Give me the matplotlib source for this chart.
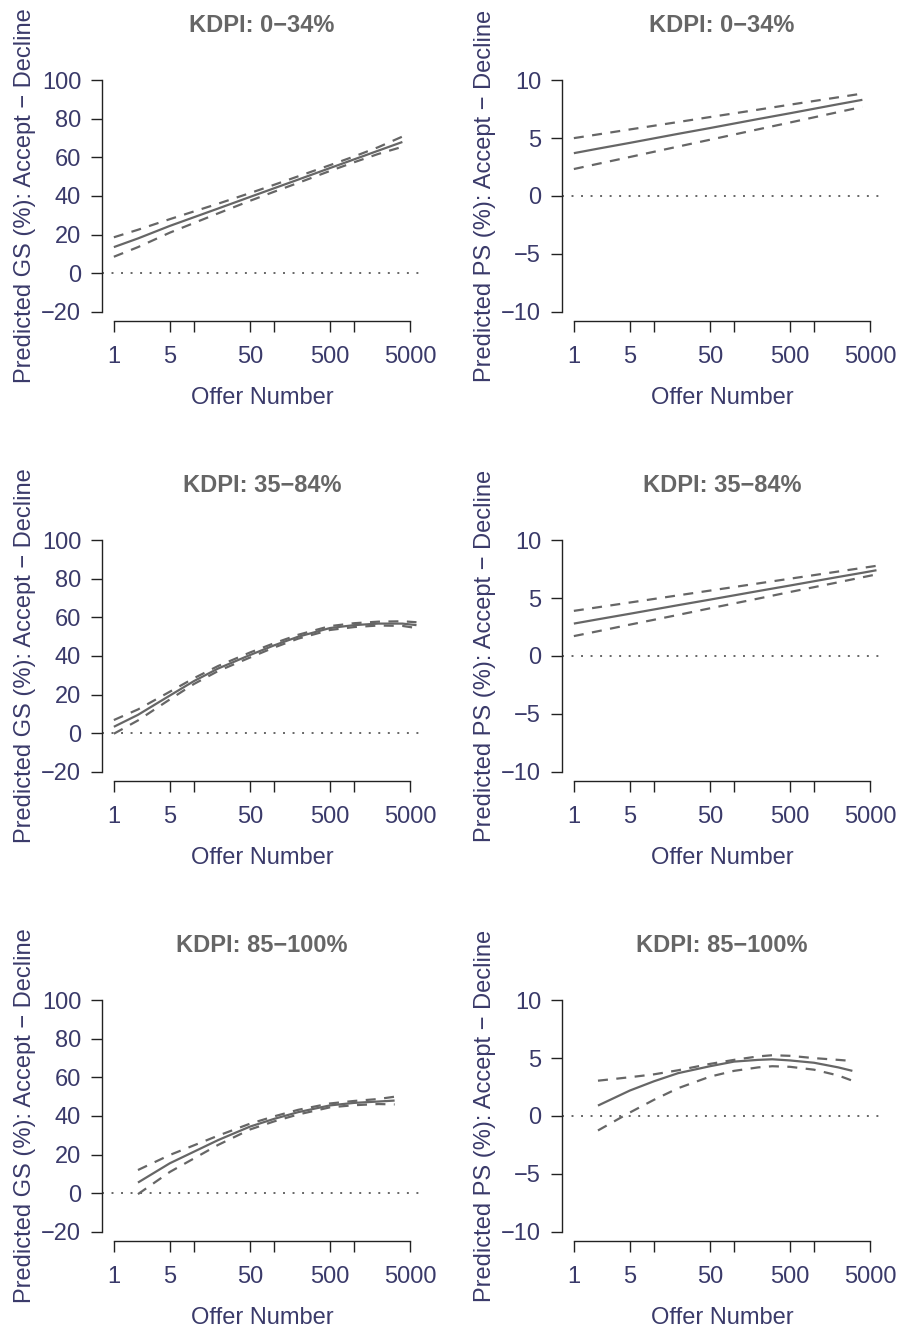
#!/usr/bin/env python3
"""
Predicted GS / PS difference (Accept - Decline) by offer number, per KDPI group
"""

import numpy as np
import matplotlib.pyplot as plt
from matplotlib.ticker import FixedLocator, FixedFormatter, NullLocator

# ---- data (offer number, estimate, upper / lower CI) ----
kdpi_groups = ['KDPI: 0\u221234%', 'KDPI: 35\u221284%', 'KDPI: 85\u2212100%']

# KDPI 0-34
offers_low = [1, 2, 5, 10, 20, 50, 100, 200, 500, 1000, 2000, 4000]
gs_low_fit = [13.5, 18.0, 24.5, 29.0, 33.5, 39.5, 44.0, 48.5, 54.5, 59.0, 63.5, 68.0]
gs_low_upper = [18.6, 22.5, 28.0, 32.0, 36.0, 41.5, 45.8, 50.2, 56.0, 60.5, 65.3, 70.8]
gs_low_lower = [8.5, 13.5, 21.0, 26.0, 31.0, 37.5, 42.2, 46.8, 53.0, 57.5, 61.8, 65.5]
ps_low_fit = [3.70, 4.09, 4.59, 4.98, 5.37, 5.87, 6.26, 6.65, 7.15, 7.54, 7.93, 8.31]
ps_low_upper = [5.00, 5.32, 5.75, 6.07, 6.39, 6.82, 7.14, 7.46, 7.89, 8.21, 8.53, 8.85]
ps_low_lower = [2.33, 2.78, 3.37, 3.82, 4.27, 4.86, 5.31, 5.76, 6.35, 6.80, 7.25, 7.70]

# KDPI 35-84
offers_mid = [1, 2, 5, 10, 20, 50, 100, 200, 500, 1000, 2000, 4000, 6000]
gs_mid_fit = [3.3, 9.5, 19.5, 27.0, 33.5, 40.5, 45.5, 50.0, 54.5, 56.0, 56.8, 56.8, 56.0]
gs_mid_upper = [6.8, 12.3, 21.5, 28.5, 34.8, 41.8, 46.6, 51.0, 55.5, 57.0, 57.8, 58.0, 57.5]
gs_mid_lower = [-0.3, 6.6, 17.5, 25.5, 32.2, 39.2, 44.4, 49.0, 53.5, 55.0, 55.8, 55.6, 54.5]
ps_mid_fit = [2.80, 3.17, 3.65, 4.02, 4.39, 4.87, 5.24, 5.61, 6.09, 6.46, 6.83, 7.19, 7.41]
ps_mid_upper = [3.90, 4.21, 4.62, 4.93, 5.24, 5.65, 5.96, 6.27, 6.68, 6.99, 7.30, 7.61, 7.79]
ps_mid_lower = [1.72, 2.14, 2.71, 3.13, 3.55, 4.12, 4.54, 4.96, 5.53, 5.95, 6.37, 6.80, 7.05]

# KDPI 85-100
offers_gs_high = [2, 5, 10, 20, 50, 100, 200, 500, 1000, 2000, 3200]
gs_high_fit = [5.5, 15.5, 21.5, 27.5, 34.5, 38.5, 42.0, 45.5, 46.8, 47.5, 48.0]
gs_high_upper = [12.0, 19.8, 24.8, 29.8, 36.0, 39.8, 43.2, 46.5, 47.8, 48.8, 50.0]
gs_high_lower = [-0.5, 11.0, 18.0, 25.0, 33.0, 37.2, 40.8, 44.5, 45.6, 46.2, 46.0]
offers_ps_high = [2, 5, 10, 20, 50, 100, 200, 300, 500, 1000, 2000, 3000]
ps_high_fit = [0.9, 2.2, 3.0, 3.7, 4.3, 4.7, 4.85, 4.9, 4.8, 4.6, 4.2, 3.9]
ps_high_upper = [3.05, 3.35, 3.6, 3.95, 4.5, 4.85, 5.15, 5.25, 5.2, 5.0, 4.85, 4.75]
ps_high_lower = [-1.25, 0.3, 1.4, 2.4, 3.4, 3.9, 4.2, 4.3, 4.25, 4.0, 3.5, 3.05]

x_ticks = [1, 5, 10, 50, 100, 500, 1000, 5000]
x_tick_labels = ['1', '5', '', '50', '', '500', '', '5000']
gs_ticks = [-20, 0, 20, 40, 60, 80, 100]
ps_ticks = [-10, -5, 0, 5, 10]

LABEL_COL = '#3a3a6a'
LINE_COL = '#666666'
FS = 17

plt.rcParams['font.family'] = ['Liberation Sans', 'DejaVu Sans']


def pad_range(lo, hi, frac=0.04):
    """R-style 4% axis extension"""
    d = (hi - lo) * frac
    return lo - d, hi + d


def draw_panel(ax, title, ylabel, offers, fit, upper, lower, yticks):
    ax.plot(offers, fit, color=LINE_COL, lw=1.6, solid_capstyle='butt')
    ax.plot(offers, upper, color=LINE_COL, lw=1.6, linestyle=(0, (4.5, 3.8)))
    ax.plot(offers, lower, color=LINE_COL, lw=1.6, linestyle=(0, (4.5, 3.8)))
    ax.axhline(0, color=LINE_COL, lw=1.4, linestyle=(0, (1, 3.9)))

    ax.set_xscale('log')
    lx0, lx1 = pad_range(np.log10(x_ticks[0]), np.log10(x_ticks[-1]))
    ax.set_xlim(10 ** lx0, 10 ** lx1)
    ax.set_ylim(*pad_range(yticks[0], yticks[-1]))

    ax.xaxis.set_major_locator(FixedLocator(x_ticks))
    ax.xaxis.set_major_formatter(FixedFormatter(x_tick_labels))
    ax.xaxis.set_minor_locator(NullLocator())
    ax.set_yticks(yticks)

    for side in ['top', 'right']:
        ax.spines[side].set_visible(False)
    ax.spines['left'].set_bounds(yticks[0], yticks[-1])
    ax.spines['bottom'].set_bounds(x_ticks[0], x_ticks[-1])
    for side in ['left', 'bottom']:
        ax.spines[side].set_linewidth(1.0)
        ax.spines[side].set_color('#222222')

    ax.tick_params(axis='both', length=8, width=1.0, color='#222222',
                   labelsize=FS, labelcolor=LABEL_COL, pad=7)
    ax.tick_params(axis='x', pad=10)

    ax.set_xlabel('Offer Number', fontsize=FS, color=LABEL_COL)
    ax.xaxis.set_label_coords(0.5, -0.262)
    ax.set_ylabel(ylabel, fontsize=FS, color=LABEL_COL)
    ax.yaxis.set_label_coords(-0.205, 0.5)

    ax.text(0.5, 1.184, title, transform=ax.transAxes, ha='center', va='center',
            fontsize=FS, fontweight='bold', color=LINE_COL)


fig = plt.figure(figsize=(9.1, 13.33), dpi=100)

col_left = [102 / 910, 562 / 910]
width = 320 / 910
height = 250 / 1333
row_bottom = [1 - 321 / 1333, 1 - 781 / 1333, 1 - 1241 / 1333]

gs_series = [
    (offers_low, gs_low_fit, gs_low_upper, gs_low_lower),
    (offers_mid, gs_mid_fit, gs_mid_upper, gs_mid_lower),
    (offers_gs_high, gs_high_fit, gs_high_upper, gs_high_lower),
]
ps_series = [
    (offers_low, ps_low_fit, ps_low_upper, ps_low_lower),
    (offers_mid, ps_mid_fit, ps_mid_upper, ps_mid_lower),
    (offers_ps_high, ps_high_fit, ps_high_upper, ps_high_lower),
]

for i, title in enumerate(kdpi_groups):
    ax_gs = fig.add_axes([col_left[0], row_bottom[i], width, height])
    draw_panel(ax_gs, title, 'Predicted GS (%): Accept \u2212 Decline',
               *gs_series[i], gs_ticks)
    ax_ps = fig.add_axes([col_left[1], row_bottom[i], width, height])
    draw_panel(ax_ps, title, 'Predicted PS (%): Accept \u2212 Decline',
               *ps_series[i], ps_ticks)

fig.savefig('out.png', dpi=100)
